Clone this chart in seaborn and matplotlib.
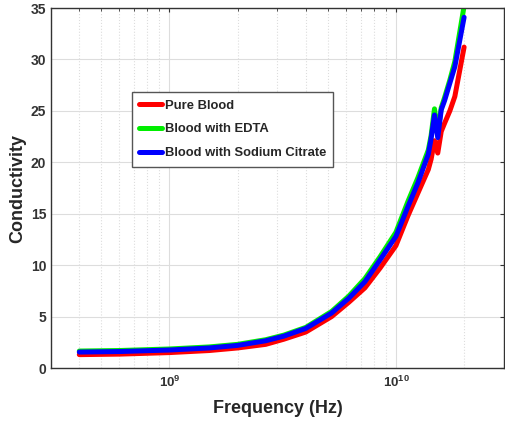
import numpy as np
import pandas as pd
import matplotlib
matplotlib.use("Agg")
import matplotlib.pyplot as plt
import seaborn as sns

# frequencias em GHz
freq_ghz = [0.4, 0.6, 1.0, 1.5, 2.0, 2.66, 3.2, 4.0, 5.2, 6.2, 7.3, 8.5, 10.0,
            11.3, 12.5, 13.9, 14.3, 14.8, 15.3, 15.85, 16.4, 17.3, 18.2, 20.0]

pure_blood = [1.3, 1.35, 1.5, 1.7, 1.95, 2.3, 2.8, 3.5, 5.0, 6.4, 7.8, 9.7, 11.9,
              14.8, 17.0, 19.3, 20.3, 22.1, 20.9, 23.0, 23.8, 25.0, 26.4, 31.2]
blood_edta = [1.65, 1.7, 1.85, 2.05, 2.3, 2.75, 3.2, 3.95, 5.5, 7.0, 8.7, 10.8, 13.2,
              16.2, 18.5, 21.2, 22.6, 25.2, 22.8, 25.3, 26.3, 28.0, 29.8, 35.2]
blood_citrate = [1.55, 1.6, 1.75, 1.95, 2.2, 2.65, 3.1, 3.85, 5.35, 6.8, 8.4, 10.5, 12.8,
                 15.7, 18.0, 20.8, 22.3, 24.6, 22.4, 25.1, 26.0, 27.7, 29.3, 34.1]

series_names = ["Pure Blood", "Blood with EDTA", "Blood with Sodium Citrate"]
series_vals = [pure_blood, blood_edta, blood_citrate]
cores = ["#ff0000", "#00ee00", "#0000ff"]

df = pd.concat([
    pd.DataFrame({"Frequency": np.array(freq_ghz) * 1e9, "Conductivity": v, "Amostra": n})
    for n, v in zip(series_names, series_vals)
], ignore_index=True)

sns.set_style("white")
plt.rcParams['font.family'] = ['Liberation Sans', 'DejaVu Sans']
plt.rcParams['mathtext.fontset'] = 'custom'
plt.rcParams['mathtext.rm'] = 'Liberation Sans:bold'
plt.rcParams['mathtext.it'] = 'Liberation Sans:bold'
plt.rcParams['mathtext.bf'] = 'Liberation Sans:bold'

fig = plt.figure(figsize=(5.05, 4.23), dpi=100)
ax = fig.add_axes([0.101, 0.13, 0.897, 0.851])

sns.lineplot(data=df, x="Frequency", y="Conductivity", hue="Amostra",
             palette=cores, linewidth=3.6, ax=ax, sort=False, estimator=None)

ax.set_xscale("log")
ax.set_xlim(3e8, 3e10)
ax.set_ylim(0, 35)
ax.set_yticks(np.arange(0, 36, 5))

ax.grid(True, which="major", color="#dddddd", linewidth=0.8)
ax.grid(True, which="minor", axis="x", color="#dddddd", linestyle=":", linewidth=0.8)
ax.set_axisbelow(True)

ax.tick_params(axis="both", which="both", direction="in", top=True, right=True,
               labelsize=10, colors="#333333", length=3)
ax.tick_params(axis="x", which="major", labelsize=9.5, pad=5)
ax.tick_params(axis="x", which="minor", length=2)
for lbl in ax.get_xticklabels() + ax.get_yticklabels():
    lbl.set_fontweight("bold")
for s in ax.spines.values():
    s.set_color("#333333")
    s.set_linewidth(1.0)

ax.set_xlabel("Frequency (Hz)", fontsize=13, fontweight="bold", labelpad=7)
ax.set_ylabel("Conductivity", fontsize=13, fontweight="bold", labelpad=3)

leg = ax.legend(loc="upper left", bbox_to_anchor=(0.178, 0.766), frameon=True,
                fancybox=False, framealpha=1, edgecolor="#555555",
                prop={"weight": "bold", "size": 9.4}, handlelength=1.8,
                handletextpad=0.2, labelspacing=0.9, borderpad=0.55, borderaxespad=0)
leg.get_frame().set_linewidth(1.0)

plt.savefig("out.png", dpi=100)
